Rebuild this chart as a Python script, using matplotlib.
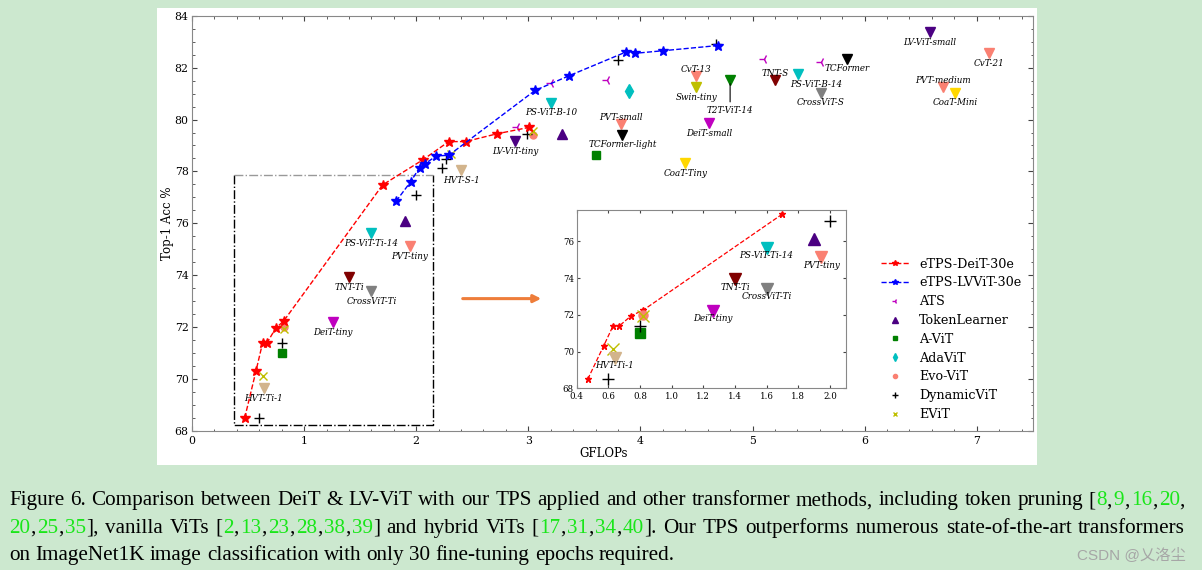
import matplotlib
matplotlib.use('Agg')
import matplotlib.pyplot as plt
from matplotlib.ticker import MultipleLocator
from matplotlib.patches import Rectangle

plt.rcParams['font.family'] = 'DejaVu Serif'

# ---- data ----
deit_gflops = [0.47, 0.57, 0.63, 0.67, 0.745, 0.82, 1.70, 2.06, 2.29, 2.44, 2.72, 3.01]
deit_acc = [68.5, 70.3, 71.4, 71.4, 71.95, 72.25, 77.48, 78.45, 79.15, 79.15, 79.45, 79.7]

lvvit_gflops = [1.82, 1.95, 2.03, 2.08, 2.18, 2.29, 3.06, 3.36, 3.87, 3.95, 4.20, 4.69]
lvvit_acc = [76.85, 77.6, 78.15, 78.3, 78.6, 78.62, 81.12, 81.68, 82.6, 82.55, 82.65, 82.85]

ats_gflops = [2.90, 3.20, 3.70, 5.10, 5.61]
ats_acc = [79.7, 81.42, 81.52, 82.35, 82.23]
tokenlearner_gflops = [1.90, 3.30]
tokenlearner_acc = [76.1, 79.45]
avit_gflops = [0.80, 3.60]
avit_acc = [71.0, 78.62]
adavit_gflops = [3.90]
adavit_acc = [81.1]
evovit_gflops = [0.82, 3.04]
evovit_acc = [72.0, 79.4]
dynamicvit_gflops = [0.60, 0.80, 2.00, 2.23, 2.27, 2.99, 3.80, 4.67]
dynamicvit_acc = [68.52, 71.4, 77.08, 78.13, 78.47, 79.45, 82.3, 82.9]
evit_gflops = [0.63, 0.82, 2.31, 3.04]
evit_acc = [70.12, 71.93, 78.68, 79.56]

ref_names = ['DeiT-tiny', 'DeiT-small', 'TNT-Ti', 'TNT-S', 'CrossViT-Ti', 'CrossViT-S',
             'PS-ViT-Ti-14', 'PS-ViT-B-10', 'PS-ViT-B-14', 'PVT-tiny', 'PVT-small', 'PVT-medium',
             'HVT-Ti-1', 'HVT-S-1', 'LV-ViT-tiny', 'LV-ViT-small', 'TCFormer-light', 'TCFormer',
             'CvT-13', 'CvT-21', 'Swin-tiny', 'CoaT-Tiny', 'CoaT-Mini', 'T2T-ViT-14']
ref_gflops = [1.26, 4.61, 1.40, 5.20, 1.60, 5.61, 1.60, 3.20, 5.41, 1.945, 3.83, 6.70,
              0.64, 2.40, 2.88, 6.58, 3.84, 5.84, 4.50, 7.11, 4.50, 4.40, 6.81, 4.80]
ref_acc = [72.2, 79.87, 73.92, 81.54, 73.4, 81.04, 75.63, 80.65, 81.75, 75.12, 79.84, 81.24,
           69.65, 78.04, 79.17, 83.36, 79.42, 82.35, 81.66, 82.56, 81.24, 78.32, 81.04, 81.54]

# ---- styles ----
ref_color = {'DeiT': 'm', 'TNT': '#800000', 'CrossViT': 'gray', 'PS-ViT': 'c', 'PVT': 'salmon',
             'HVT': 'tan', 'LV-ViT': 'indigo', 'TCFormer': 'k', 'CvT': 'salmon', 'Swin': 'y',
             'CoaT': 'gold', 'T2T': 'green'}
# label offsets in pixels (dx, dy)
label_off = {'TNT-S': (0, 6.5), 'PVT-small': (0, 6.5), 'PVT-medium': (0, 6.5), 'CvT-13': (0, 6.5),
             'PS-ViT-B-14': (18, -10), 'T2T-ViT-14': (0, -31)}


def family_color(name):
    for k in ref_color:
        if name.startswith(k):
            return ref_color[k]
    return 'k'


fig = plt.figure(figsize=(12.02, 5.70), dpi=100, facecolor='#cce8cf')
W, H = 1202.0, 570.0
fig.add_artist(Rectangle((157 / W, 1 - 465 / H), 880 / W, 457 / H, transform=fig.transFigure,
                         facecolor='white', edgecolor='none', zorder=-10))

ax = fig.add_axes([192 / W, 1 - 431 / H, 840.8 / W, 415.3 / H])
ax.set_facecolor('none')

l1, = ax.plot(deit_gflops, deit_acc, 'r*--', ms=7, lw=1, label='eTPS-DeiT-30e', zorder=5)
l2, = ax.plot(lvvit_gflops, lvvit_acc, 'b*--', ms=7, lw=1, label='eTPS-LVViT-30e', zorder=5)
m1, = ax.plot(ats_gflops, ats_acc, '3', color='m', ms=7, ls='none', label='ATS')
m2, = ax.plot(tokenlearner_gflops, tokenlearner_acc, '^', color='indigo', ms=6.5, ls='none', label='TokenLearner')
m3, = ax.plot(avit_gflops, avit_acc, 's', color='green', ms=5.5, ls='none', label='A-ViT')
m4, = ax.plot(adavit_gflops, adavit_acc, 'd', color='c', ms=7, ls='none', label='AdaViT')
m5, = ax.plot(evovit_gflops, evovit_acc, 'o', color='salmon', ms=5, ls='none', label='Evo-ViT')
m6, = ax.plot(dynamicvit_gflops, dynamicvit_acc, '+', color='k', ms=6.5, ls='none', label='DynamicViT')
m7, = ax.plot(evit_gflops, evit_acc, 'x', color='y', ms=5.5, ls='none', label='EViT')

for n, x, y in zip(ref_names, ref_gflops, ref_acc):
    ax.plot(x, y, 'v', color=family_color(n), ms=7)
    dx, dy = label_off.get(n, (0, -10.3))
    if n == 'T2T-ViT-14':
        ax.annotate(n, (x, y), xytext=(dx, dy), textcoords='offset pixels', ha='center', va='center',
                    fontsize=6.3, style='italic',
                    arrowprops=dict(arrowstyle='-', color='k', lw=0.8, shrinkA=1, shrinkB=3))
    else:
        ax.annotate(n, (x, y), xytext=(dx, dy), textcoords='offset pixels', ha='center', va='center',
                    fontsize=6.3, style='italic')

ax.set_xlim(0, 7.5)
ax.set_ylim(68, 84)
ax.xaxis.set_major_locator(MultipleLocator(1))
ax.xaxis.set_minor_locator(MultipleLocator(0.2))
ax.yaxis.set_major_locator(MultipleLocator(2))
ax.yaxis.set_minor_locator(MultipleLocator(0.5))
ax.tick_params(which='both', direction='in', top=True, right=True, labelsize=7.8, color='#444444')
ax.tick_params(which='major', length=3.5)
ax.tick_params(which='minor', length=1.8)
ax.tick_params(axis='x', pad=3.5)
ax.tick_params(axis='y', pad=2.5)
for s in ax.spines.values():
    s.set_color('#888888')
ax.set_xlabel('GFLOPs', fontsize=8.5)
ax.set_ylabel('Top-1 Acc %', fontsize=8.5)
ax.xaxis.set_label_coords(0.49, -0.038)
ax.yaxis.set_label_coords(-0.021, 0.5)

# zoom box
bx0, bx1, by0, by1 = 0.377, 2.153, 68.23, 77.88
ax.plot([bx0, bx0, bx1, bx1], [by1, by0, by0, by1], color='k', ls='-.', lw=1)
ax.plot([bx0, bx1], [by1, by1], color='#999999', ls='-.', lw=1)

ax.annotate('', xy=(3.14, 73.1), xytext=(2.39, 73.1),
            arrowprops=dict(arrowstyle='-|>', color='#ee7d3a', lw=2.2, mutation_scale=11))

ax.legend(handles=[l1, l2, m1, m2, m3, m4, m5, m6, m7], loc='upper left', bbox_to_anchor=(0.813, 0.43),
          frameon=False, fontsize=9.2, markerscale=0.6, labelspacing=0.455, handlelength=2.2,
          handletextpad=0.8, borderaxespad=0, borderpad=0.4)

# ---- inset ----
axin = fig.add_axes([576.7 / W, 1 - 388.3 / H, 269 / W, 178.3 / H])
ix0, ix1, iy0, iy1 = 0.4, 2.1, 68, 77.7


def inside(xs, ys):
    pts = [(x, y) for x, y in zip(xs, ys) if ix0 <= x <= ix1 and iy0 <= y <= iy1]
    return [p[0] for p in pts], [p[1] for p in pts]


axin.plot(*inside(deit_gflops, deit_acc), 'r*--', ms=5, lw=0.9)
axin.plot(*inside(tokenlearner_gflops, tokenlearner_acc), '^', color='indigo', ms=8)
axin.plot(*inside(avit_gflops, avit_acc), 's', color='green', ms=7.5)
axin.plot(*inside(evovit_gflops, evovit_acc), 'o', color='salmon', ms=6.5)
axin.plot(*inside(dynamicvit_gflops, dynamicvit_acc), '+', color='k', ms=8)
axin.plot(*inside(evit_gflops, evit_acc), 'x', color='y', ms=8)
for n, x, y in zip(ref_names, ref_gflops, ref_acc):
    if ix0 <= x <= ix1 and iy0 <= y <= iy1:
        axin.plot(x, y, 'v', color=family_color(n), ms=8)
        axin.annotate(n, (x, y), xytext=(0, -7.7), textcoords='offset pixels', ha='center',
                      va='center', fontsize=6.3, style='italic')
axin.set_xlim(ix0, ix1)
axin.set_ylim(iy0, iy1)
axin.xaxis.set_major_locator(MultipleLocator(0.2))
axin.yaxis.set_major_locator(MultipleLocator(2))
axin.tick_params(which='both', direction='in', top=True, right=True, labelsize=6.2, length=2.5,
                 color='#444444')
axin.tick_params(axis='x', pad=2.6)
axin.tick_params(axis='y', pad=2.0)
for s in axin.spines.values():
    s.set_color('#888888')

# ---- caption (justified, green citation numbers) ----
cap_green = '#19e619'
cap_lines = [
    "Figure 6. Comparison between DeiT & LV-ViT with our TPS applied and other transformer methods, "
    "including token pruning [|8|,~|9|,~|16|,~|20|,",
    "|20|,~|25|,~|35|], vanilla ViTs [|2|,~|13|,~|23|,~|28|,~|38|,~|39|] and hybrid ViTs "
    "[|17|,~|31|,~|34|,~|40|]. Our TPS outperforms numerous state-of-the-art transformers",
    "on ImageNet1K image classification with only 30 fine-tuning epochs required.",
]
cap_justify = [True, True, False]
cap_baseline = [505.3, 532.7, 560.0]
cap_fs = 15.2
cap_font = 'Liberation Serif'
x_left, x_right = 9.0, 1185.0
cite_gap = 1.5

fig.canvas.draw()
rend = fig.canvas.get_renderer()


def tw(s):
    t = fig.text(0, 0, s, fontsize=cap_fs, family=cap_font)
    w = t.get_window_extent(rend).width
    t.remove()
    return w


bar_w = tw('|')
space_w = tw('a a') - tw('aa')


def adv(s):
    return tw(s + '|') - bar_w


def word_layout(w):
    # pieces of a word: (text, colour, x offset)
    out = []
    xs = 0.0
    for k, piece in enumerate(w.split('~')):
        if k:
            xs += cite_gap
        for i, p in enumerate(piece.split('|')):
            if p:
                out.append((p, cap_green if i % 2 else 'black', xs))
                xs += adv(p)
    return out, xs


for line, just, yb in zip(cap_lines, cap_justify, cap_baseline):
    words = [word_layout(w) for w in line.split(' ')]
    total = sum(wd for _, wd in words)
    gap = space_w
    if just:
        gap = (x_right - x_left - total) / (len(words) - 1)
    x = x_left
    for pieces, wd in words:
        for p, c, off in pieces:
            fig.text((x + off) / W, 1 - yb / H, p, fontsize=cap_fs, family=cap_font,
                     color=c, ha='left', va='baseline')
        x += wd + gap

fig.text(1186 / W, 1 - 559 / H, 'CSDN @乂洛尘', ha='right', va='baseline', fontsize=11,
         color='#a6a6a6', family=['Liberation Sans', 'Noto Sans CJK SC'])

fig.savefig('out.png', dpi=100, facecolor=fig.get_facecolor())
